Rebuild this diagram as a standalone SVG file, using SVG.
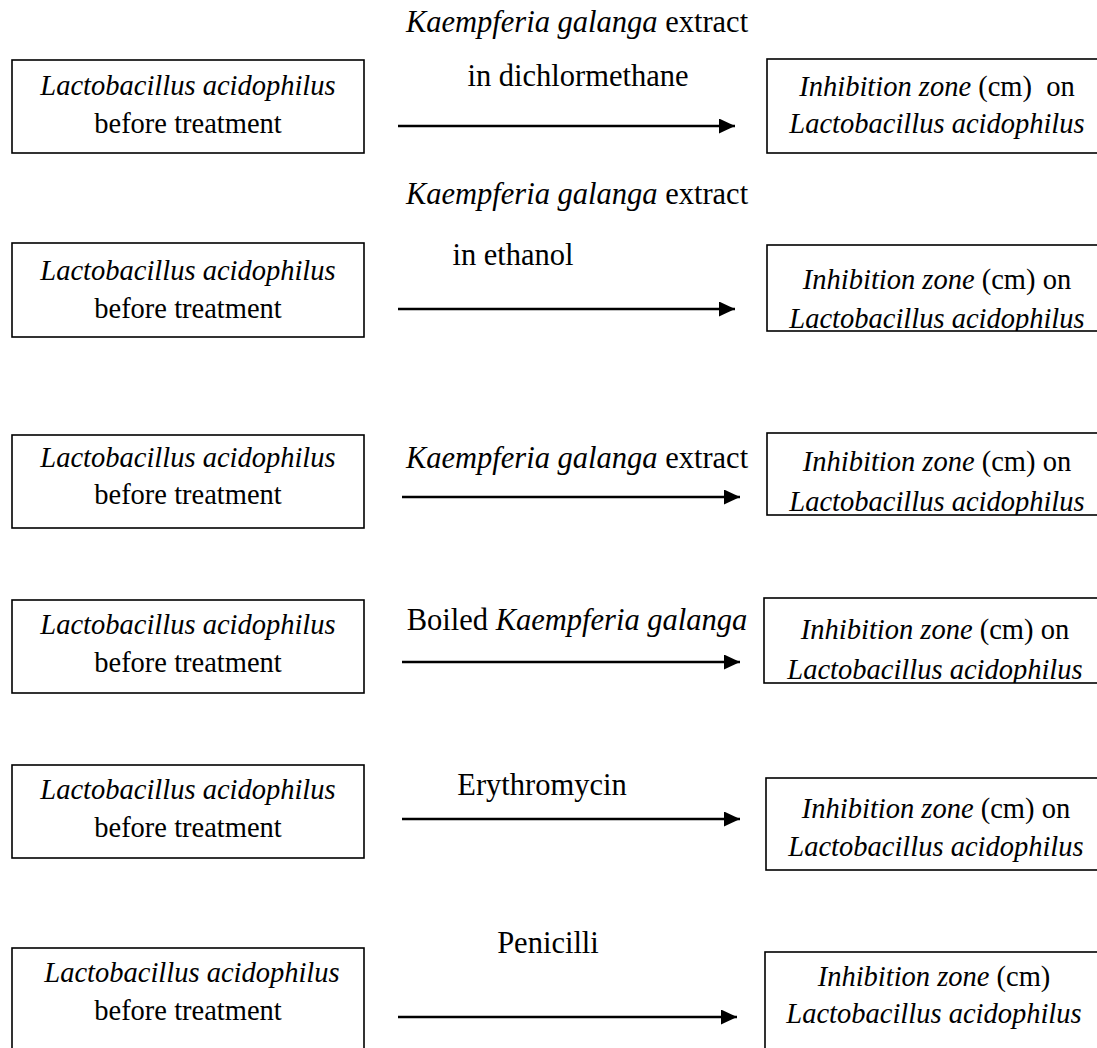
<svg xmlns="http://www.w3.org/2000/svg" width="1097" height="1048" viewBox="0 0 1097 1048">
<style>
.box{fill:#fff;stroke:#000;stroke-width:1.6}
.t{font-family:"Liberation Serif","Times New Roman",serif;font-size:28.5px;fill:#000;text-anchor:middle}
.lb{font-family:"Liberation Serif","Times New Roman",serif;font-size:30.5px;fill:#000;text-anchor:middle}
.i{font-style:italic}
.arrow{stroke:#000;stroke-width:2.4;fill:none;marker-end:url(#ah)}
</style>
<defs>
<marker id="ah" markerUnits="userSpaceOnUse" markerWidth="17" markerHeight="16" refX="16" refY="7.5" orient="auto">
<path d="M0,0 L16,7.5 L0,15 z" fill="#000"/>
</marker>
<clipPath id="c1"><rect x="767" y="59" width="340" height="94"/></clipPath>
<clipPath id="c2"><rect x="767" y="245" width="340" height="86"/></clipPath>
<clipPath id="c3"><rect x="767" y="433" width="340" height="82"/></clipPath>
<clipPath id="c4"><rect x="764" y="598" width="340" height="85"/></clipPath>
<clipPath id="c5"><rect x="766" y="778" width="340" height="92"/></clipPath>
<clipPath id="c6"><rect x="765" y="952" width="340" height="110"/></clipPath>
</defs>

<g id="connectors">
<line class="arrow" x1="398" y1="126" x2="735" y2="126"/>
<line class="arrow" x1="398" y1="309" x2="735" y2="309"/>
<line class="arrow" x1="402" y1="497" x2="740" y2="497"/>
<line class="arrow" x1="402" y1="662" x2="740" y2="662"/>
<line class="arrow" x1="402" y1="819" x2="740" y2="819"/>
<line class="arrow" x1="398" y1="1017" x2="737" y2="1017"/>
</g>

<g id="labels">
<text class="lb" x="577" y="32"><tspan class="i">Kaempferia galanga</tspan> extract</text>
<text class="lb" x="578" y="86">in dichlormethane</text>
<text class="lb" x="577" y="204"><tspan class="i">Kaempferia galanga</tspan> extract</text>
<text class="lb" x="513" y="265">in ethanol</text>
<text class="lb" x="577" y="468"><tspan class="i">Kaempferia galanga</tspan> extract</text>
<text class="lb" x="577" y="630">Boiled <tspan class="i">Kaempferia galanga</tspan></text>
<text class="lb" x="542" y="795">Erythromycin</text>
<text class="lb" x="548" y="953">Penicilli</text>
</g>

<g id="src1"><rect class="box" x="12" y="60" width="352" height="93"/>
<text class="t i" x="188" y="95">Lactobacillus acidophilus</text>
<text class="t" x="188" y="133">before treatment</text></g>
<g id="res1"><rect class="box" x="767" y="59" width="340" height="94"/>
<g clip-path="url(#c1)"><text class="t" x="937" y="96" xml:space="preserve"><tspan class="i">Inhibition zone</tspan> (cm)  on</text>
<text class="t i" x="937" y="133">Lactobacillus acidophilus</text></g></g>

<g id="src2"><rect class="box" x="12" y="243" width="352" height="94"/>
<text class="t i" x="188" y="280">Lactobacillus acidophilus</text>
<text class="t" x="188" y="318">before treatment</text></g>
<g id="res2"><rect class="box" x="767" y="245" width="340" height="86"/>
<g clip-path="url(#c2)"><text class="t" x="937" y="289"><tspan class="i">Inhibition zone</tspan> (cm) on</text>
<text class="t i" x="937" y="328">Lactobacillus acidophilus</text></g></g>

<g id="src3"><rect class="box" x="12" y="435" width="352" height="93"/>
<text class="t i" x="188" y="467">Lactobacillus acidophilus</text>
<text class="t" x="188" y="504">before treatment</text></g>
<g id="res3"><rect class="box" x="767" y="433" width="340" height="82"/>
<g clip-path="url(#c3)"><text class="t" x="937" y="471"><tspan class="i">Inhibition zone</tspan> (cm) on</text>
<text class="t i" x="937" y="511">Lactobacillus acidophilus</text></g></g>

<g id="src4"><rect class="box" x="12" y="600" width="352" height="93"/>
<text class="t i" x="188" y="634">Lactobacillus acidophilus</text>
<text class="t" x="188" y="672">before treatment</text></g>
<g id="res4"><rect class="box" x="764" y="598" width="340" height="85"/>
<g clip-path="url(#c4)"><text class="t" x="935" y="639"><tspan class="i">Inhibition zone</tspan> (cm) on</text>
<text class="t i" x="935" y="679">Lactobacillus acidophilus</text></g></g>

<g id="src5"><rect class="box" x="12" y="765" width="352" height="93"/>
<text class="t i" x="188" y="799">Lactobacillus acidophilus</text>
<text class="t" x="188" y="837">before treatment</text></g>
<g id="res5"><rect class="box" x="766" y="778" width="340" height="92"/>
<g clip-path="url(#c5)"><text class="t" x="936" y="818"><tspan class="i">Inhibition zone</tspan> (cm) on</text>
<text class="t i" x="936" y="856">Lactobacillus acidophilus</text></g></g>

<g id="src6"><rect class="box" x="12" y="948" width="352" height="120"/>
<text class="t i" x="192" y="982">Lactobacillus acidophilus</text>
<text class="t" x="188" y="1020">before treatment</text></g>
<g id="res6"><rect class="box" x="765" y="952" width="340" height="120"/>
<g clip-path="url(#c6)"><text class="t" x="934" y="986"><tspan class="i">Inhibition zone</tspan> (cm)</text>
<text class="t i" x="934" y="1023">Lactobacillus acidophilus</text></g></g>
</svg>
